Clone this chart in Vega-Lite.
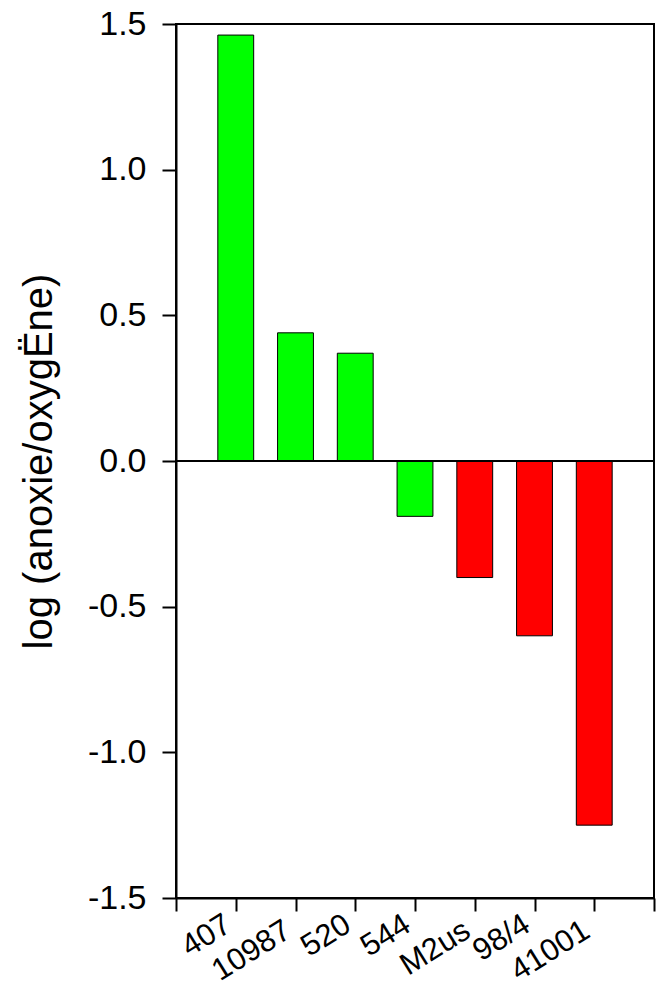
{
  "$schema": "https://vega.github.io/schema/vega-lite/v6.json",
  "width": 478,
  "height": 874,
  "autosize": "none",
  "padding": {"left": 176, "top": 24, "right": 9, "bottom": 89},
  "background": "white",
  "config": {
    "view": {"stroke": "black", "strokeWidth": 2},
    "font": "Liberation Sans",
    "axis": {"grid": false, "domainColor": "black", "tickColor": "black", "labelColor": "black", "titleColor": "black", "domainWidth": 2, "tickWidth": 2}
  },
  "data": {
    "values": [
      {"strain": "407", "value": 1.462, "group": "A"},
      {"strain": "10987", "value": 0.44, "group": "A"},
      {"strain": "520", "value": 0.37, "group": "A"},
      {"strain": "544", "value": -0.19, "group": "A"},
      {"strain": "M2us", "value": -0.40, "group": "B"},
      {"strain": "98/4", "value": -0.60, "group": "B"},
      {"strain": "41001", "value": -1.25, "group": "B"}
    ]
  },
  "layer": [
    {
      "mark": {"type": "bar", "stroke": "black", "strokeWidth": 1},
      "encoding": {
        "x": {
          "field": "strain", "type": "nominal", "sort": null,
          "scale": {"paddingInner": 0.4, "paddingOuter": 0.7},
          "axis": {
            "title": null, "ticks": false, "domain": false,
            "labelAngle": -32, "labelFontSize": 31, "labelAlign": "right", "labelBaseline": "top",
            "labelOffset": -15,
            "labelPadding": {"condition": {"test": "indexof(['10987','M2us','41001'], datum.value) >= 0", "value": 17}, "value": 11}
          }
        },
        "y": {
          "field": "value", "type": "quantitative",
          "scale": {"domain": [-1.5, 1.5], "nice": false, "zero": false},
          "axis": {
            "values": [-1.5, -1, -0.5, 0, 0.5, 1, 1.5],
            "labelExpr": "(datum.value < 0 ? '-' : '') + format(abs(datum.value), '.1f')",
            "tickSize": 14, "labelFontSize": 34, "labelPadding": 16,
            "title": "log (anoxie/oxygËne)", "titleFontSize": 40, "titleFontWeight": "normal", "titlePadding": 28
          }
        },
        "color": {"field": "group", "type": "nominal", "scale": {"domain": ["A", "B"], "range": ["#00ff00", "#ff0000"]}, "legend": null}
      }
    },
    {
      "mark": {"type": "rule", "color": "black", "strokeWidth": 2},
      "encoding": {
        "y": {"datum": 0, "type": "quantitative"},
        "x": {
          "datum": 0, "type": "quantitative",
          "scale": {"domain": [0, 8], "nice": false},
          "axis": {"orient": "bottom", "values": [0, 1, 2, 3, 4, 5, 6, 7, 8], "labels": false, "tickSize": 13, "title": null}
        },
        "x2": {"datum": 8}
      }
    }
  ],
  "resolve": {"scale": {"x": "independent"}}
}
